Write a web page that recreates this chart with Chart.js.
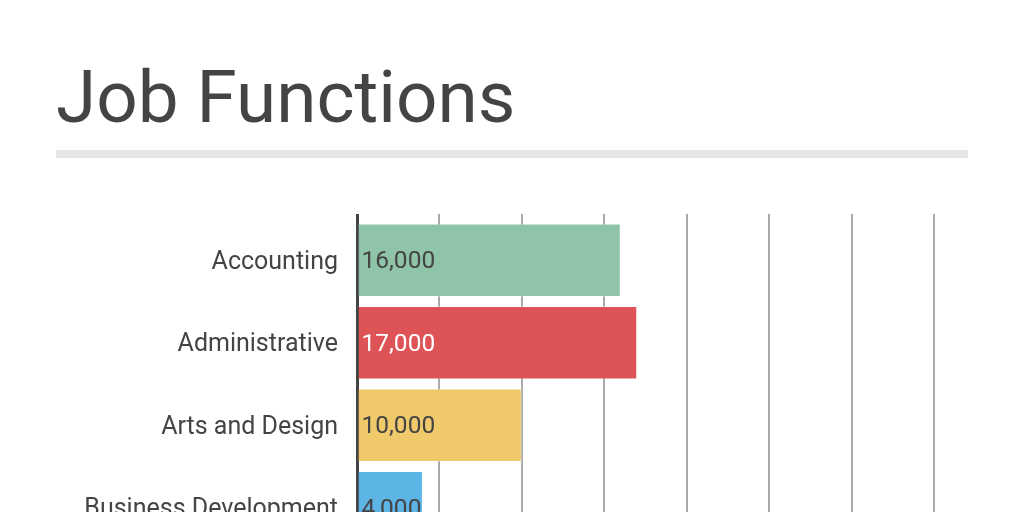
<!DOCTYPE html>
<html>
<head>
<meta charset="utf-8">
<script src="https://cdn.jsdelivr.net/npm/chart.js@4/dist/chart.umd.min.js"></script>
<style>
  html, body { margin: 0; padding: 0; background: #fff; overflow: hidden; }
  body { width: 1024px; height: 512px; position: relative; font-family: Roboto, sans-serif; }
  h1 { position: absolute; left: 56px; top: 52px; margin: 0; font-weight: 400; font-size: 72.8px; line-height: 90px; color: #444; }
  .rule { position: absolute; left: 56px; top: 150px; width: 912px; height: 8px; background: #e6e6e6; }
  #jobChart { position: absolute; left: 0; top: 214px; }
</style>
</head>
<body>
<h1>Job Functions</h1>
<div class="rule"></div>
<canvas id="jobChart" width="1024" height="335"></canvas>
<script>
// Données
const categories = ['Accounting', 'Administrative', 'Arts and Design', 'Business Development'];
const values = [16000, 17000, 10000, 4000];
const barColors = ['#8fc4a8', '#de5356', '#efc96a', '#5db5e5'];
const labelColors = ['#444444', '#ffffff', '#444444', '#444444'];

// Étiquettes de valeur dans les barres
const valueLabels = {
    id: 'valueLabels',
    afterDatasetsDraw(chart) {
        const ctx = chart.ctx;
        const meta = chart.getDatasetMeta(0);
        ctx.save();
        ctx.font = '24.5px Roboto';
        ctx.textBaseline = 'middle';
        ctx.textAlign = 'left';
        meta.data.forEach((bar, i) => {
            ctx.fillStyle = labelColors[i];
            ctx.fillText(values[i].toLocaleString('en-US'), bar.base + 3, bar.y + 2);
        });
        ctx.restore();
    }
};

// Supprime les marges automatiques des axes
function noPadding(scale) {
    scale.paddingTop = 0;
    scale.paddingBottom = 0;
    scale.paddingLeft = 0;
    scale.paddingRight = 0;
}

const ctx = document.getElementById('jobChart').getContext('2d');
new Chart(ctx, {
    type: 'bar',
    data: {
        labels: categories,
        datasets: [{
            data: values,
            backgroundColor: barColors,
            borderColor: 'rgba(255,255,255,0.35)',
            borderWidth: 1,
            categoryPercentage: 0.9,
            barPercentage: 0.99
        }]
    },
    options: {
        indexAxis: 'y',
        responsive: false,
        animation: false,
        devicePixelRatio: 1,
        layout: { padding: { top: 0, right: 90, bottom: 0, left: 0 } },
        plugins: {
            legend: { display: false },
            tooltip: { enabled: false }
        },
        scales: {
            x: {
                position: 'top',
                min: 0,
                max: 35000,
                afterFit: noPadding,
                ticks: { display: false, stepSize: 5000 },
                grid: {
                    color: (c) => (c.tick && c.tick.value === 0) ? '#444' : '#aaaaaa',
                    lineWidth: (c) => (c.tick && c.tick.value === 0) ? 3 : 2,
                    drawTicks: true,
                    tickLength: 5
                },
                border: { display: false }
            },
            y: {
                afterFit: (scale) => { noPadding(scale); scale.width = 357; },
                ticks: { color: '#444', font: { family: 'Roboto', size: 25 }, padding: 19, labelOffset: 2 },
                grid: { display: false, drawTicks: false },
                border: { display: true, color: '#444', width: 3 }
            }
        }
    },
    plugins: [valueLabels]
});
</script>
</body>
</html>
